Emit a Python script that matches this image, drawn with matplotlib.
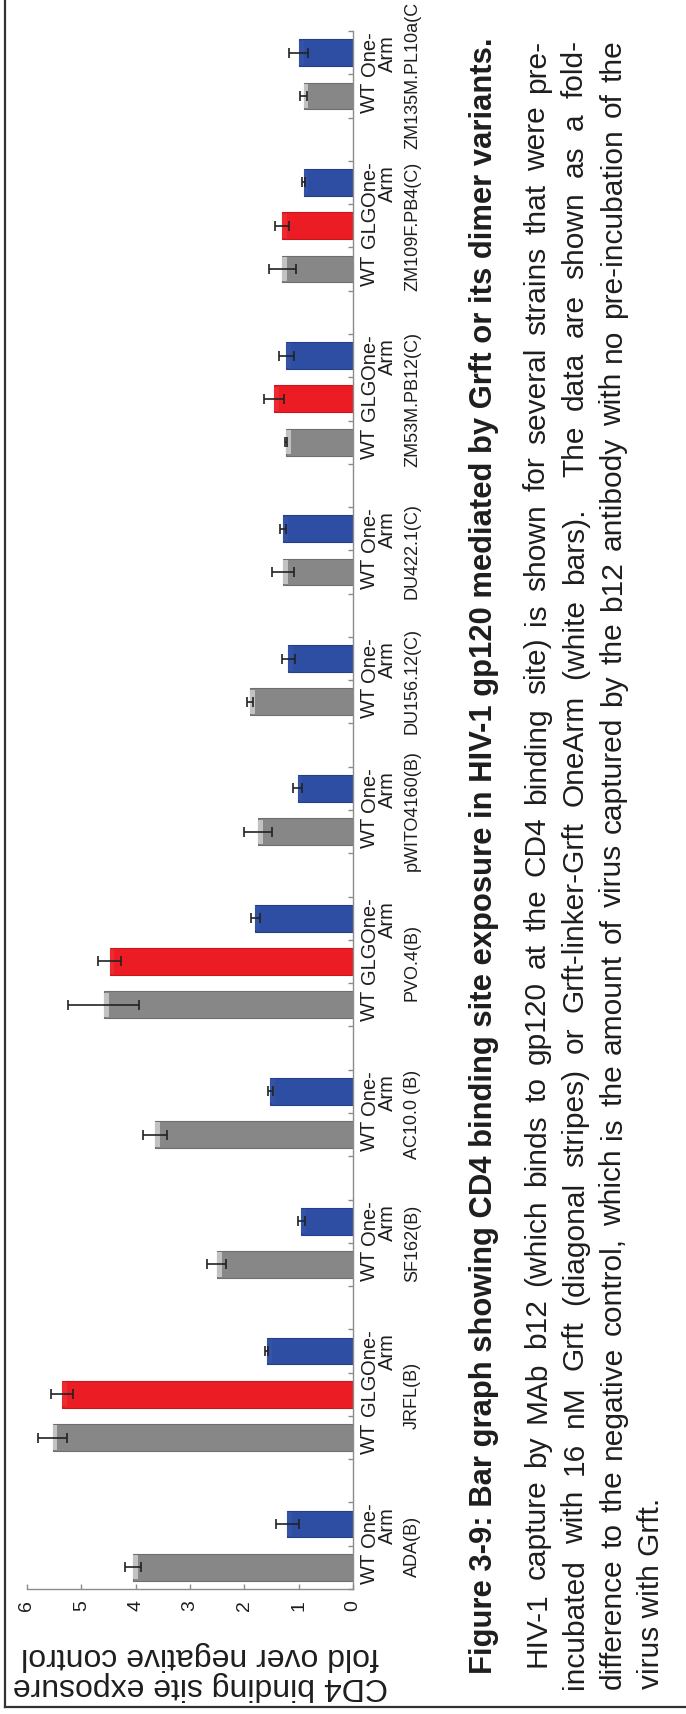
import numpy as np
import matplotlib
matplotlib.use("Agg")
import matplotlib.pyplot as plt
from matplotlib.transforms import Affine2D, blended_transform_factory
from matplotlib.font_manager import FontProperties
from matplotlib.lines import Line2D

# ---------------- data ----------------
# (last strain label is shown cut by the page edge in the reference)
strains = ["ADA(B)", "JRFL(B)", "SF162(B)", "AC10.0 (B)", "PVO.4(B)", "pWITO4160(B)",
           "DU156.12(C)", "DU422.1(C)", "ZM53M.PB12(C)", "ZM109F.PB4(C)", "ZM135M.PL10a(C"]
wt_vals = [4.05, 5.53, 2.51, 3.64, 4.59, 1.75, 1.90, 1.29, 1.23, 1.30, 0.91]
wt_errs = [0.14, 0.26, 0.18, 0.22, 0.66, 0.26, 0.06, 0.20, 0.02, 0.25, 0.07]
glg_vals = [None, 5.36, None, None, 4.48, None, None, None, 1.45, 1.30, None]
glg_errs = [None, 0.20, None, None, 0.21, None, None, None, 0.18, 0.13, None]
oa_vals = [1.21, 1.59, 0.95, 1.52, 1.80, 1.02, 1.19, 1.29, 1.23, 0.91, 1.00]
oa_errs = [0.21, 0.03, 0.06, 0.04, 0.08, 0.09, 0.12, 0.06, 0.14, 0.03, 0.18]
variant_labels = {"WT": "WT", "GLG": "GLG", "OA": "One-\nArm"}
value_ticks = [0, 1, 2, 3, 4, 5, 6]
ylabel_text = "CD4 binding site exposure\nfold over negative control"
title_text = ("Figure 3-9: Bar graph showing CD4 binding site exposure in HIV-1 gp120 "
              "mediated by Grft or its dimer variants.")
body_lines = [
    "HIV-1 capture by MAb b12 (which binds to gp120 at the CD4 binding site) is shown for several strains that were pre-",
    "incubated with 16 nM Grft (diagonal stripes) or Grft-linker-Grft OneArm (white bars).  The data are shown as a fold-",
    "difference to the negative control, which is the amount of virus captured by the b12 antibody with no pre-incubation of the",
    "virus with Grft.",
]

colors = {"WT": "#878787", "GLG": "#EC1C24", "OA": "#2E4EA3"}
edges = {"WT": "#6E6E6E", "GLG": "#C8161D", "OA": "#243F88"}
tips = {"WT": "#C2C2C2", "GLG": "#EE2A31", "OA": "#3553A6"}
TXT = "#1E1E1E"
AX = "#8C8C8C"
FONT = "Liberation Sans"

# ---------------- figure ----------------
W, H = 686, 1715
fig = plt.figure(figsize=(W / 100, H / 100), dpi=100)
pix = Affine2D().scale(1.0 / W, -1.0 / H).translate(0, 1) + fig.transFigure

ax_left, ax_right, ax_top, ax_bot = 27, 353, 32, 1590
ax = fig.add_axes([ax_left / W, 1 - ax_bot / H, (ax_right - ax_left) / W, (ax_bot - ax_top) / H])

# build slots
slots = []
group_centers = []
pos = 0
for i in range(len(strains)):
    start = pos
    for kind, vals, errs in (("WT", wt_vals, wt_errs), ("GLG", glg_vals, glg_errs), ("OA", oa_vals, oa_errs)):
        if vals[i] is None:
            continue
        slots.append((pos, kind, vals[i], errs[i]))
        pos += 1
    group_centers.append((start + pos - 1) / 2.0)
    pos += 1
n_slots = pos - 1

tip_w = 0.09
for p, kind, v, e in slots:
    ax.barh(p, v, height=0.62, color=colors[kind], edgecolor=edges[kind], linewidth=0.8, zorder=2)
    ax.barh(p, tip_w, left=v - tip_w, height=0.56, color=tips[kind], linewidth=0, zorder=2.1)
    ax.errorbar(v, p, xerr=e, fmt="none", ecolor="#222222", elinewidth=1.2,
                capsize=3.6, capthick=1.2, zorder=3)

ax.set_xlim(6, 0)
ax.set_ylim(-0.5, n_slots - 0.5)

for s in ("left", "top"):
    ax.spines[s].set_visible(False)
for s in ("right", "bottom"):
    ax.spines[s].set_color(AX)
    ax.spines[s].set_linewidth(1.0)

ax.set_xticks(value_ticks)
ax.set_xticklabels([str(t) for t in value_ticks], rotation=90, fontsize=14,
                   family=FONT, color=TXT)
ax.tick_params(axis="x", direction="in", length=3.6, width=1.0, color=AX, pad=7)

ax.yaxis.tick_right()
ax.set_yticks(np.arange(-0.5, n_slots, 1.0))
ax.set_yticklabels([])
ax.tick_params(axis="y", direction="in", length=3.6, width=1.0, color=AX)

lab_tr = blended_transform_factory(pix, ax.transData)
for p, kind, v, e in slots:
    ax.text(360, p, variant_labels[kind], transform=lab_tr, rotation=90, ha="left", va="center",
            multialignment="center", linespacing=0.92, fontsize=14.5, family=FONT, color=TXT,
            clip_on=False)
for gc, name in zip(group_centers, strains):
    ax.text(404, gc, name, transform=lab_tr, rotation=90, ha="left", va="center",
            fontsize=13, family=FONT, color=TXT, clip_on=False)

# y-axis title (upside down because page is rotated)
fig.text(200, 1671, ylabel_text, transform=pix, rotation=180, ha="center", va="center",
         multialignment="center", linespacing=0.98, fontsize=23, family=FONT, color=TXT)

# ---------------- caption ----------------
renderer = fig.canvas.get_renderer()


def tw(s, fp):
    w, h, d = renderer.get_text_width_height_descent(s, fp, ismath=False)
    return w


top_end = 40
fp_title = FontProperties(family=FONT, weight="bold", size=20)
title_start = 1674
fs_t = 20 * (title_start - top_end) / tw(title_text, fp_title)
fp_title = FontProperties(family=FONT, weight="bold", size=fs_t)
fig.text(492, title_start, title_text, transform=pix, rotation=90, rotation_mode="anchor",
         ha="left", va="baseline", fontproperties=fp_title, color=TXT)

body_fs = 21.5
starts = [1667, 1689, 1689, 1689]
for line, st in zip(body_lines, starts):
    fp = FontProperties(family=FONT, size=body_fs)
    nat = tw(line, fp)
    if nat > (st - top_end):
        body_fs = body_fs * (st - top_end) / nat * 0.99
starts_x = [545, 583, 621, 659]
fp_b = FontProperties(family=FONT, size=body_fs)
for k, (line, st, bx) in enumerate(zip(body_lines, starts, starts_x)):
    if k == len(body_lines) - 1:
        fig.text(bx, st, line, transform=pix, rotation=90, rotation_mode="anchor",
                 ha="left", va="baseline", fontproperties=fp_b, color=TXT)
        continue
    words = line.split(" ")
    widths = [tw(w, fp_b) if w else 0.0 for w in words]
    gap = ((st - top_end) - sum(widths)) / (len(words) - 1)
    y = st
    for w, wd in zip(words, widths):
        if w:
            fig.text(bx, y, w, transform=pix, rotation=90, rotation_mode="anchor",
                     ha="left", va="baseline", fontproperties=fp_b, color=TXT)
        y -= wd + gap

# page frame
fig.add_artist(Line2D([5, 5], [0, 1708], transform=pix, color="#333333", lw=1.6))
fig.add_artist(Line2D([5, 686], [1708, 1708], transform=pix, color="#333333", lw=1.6))

fig.savefig("out.png", dpi=100)
